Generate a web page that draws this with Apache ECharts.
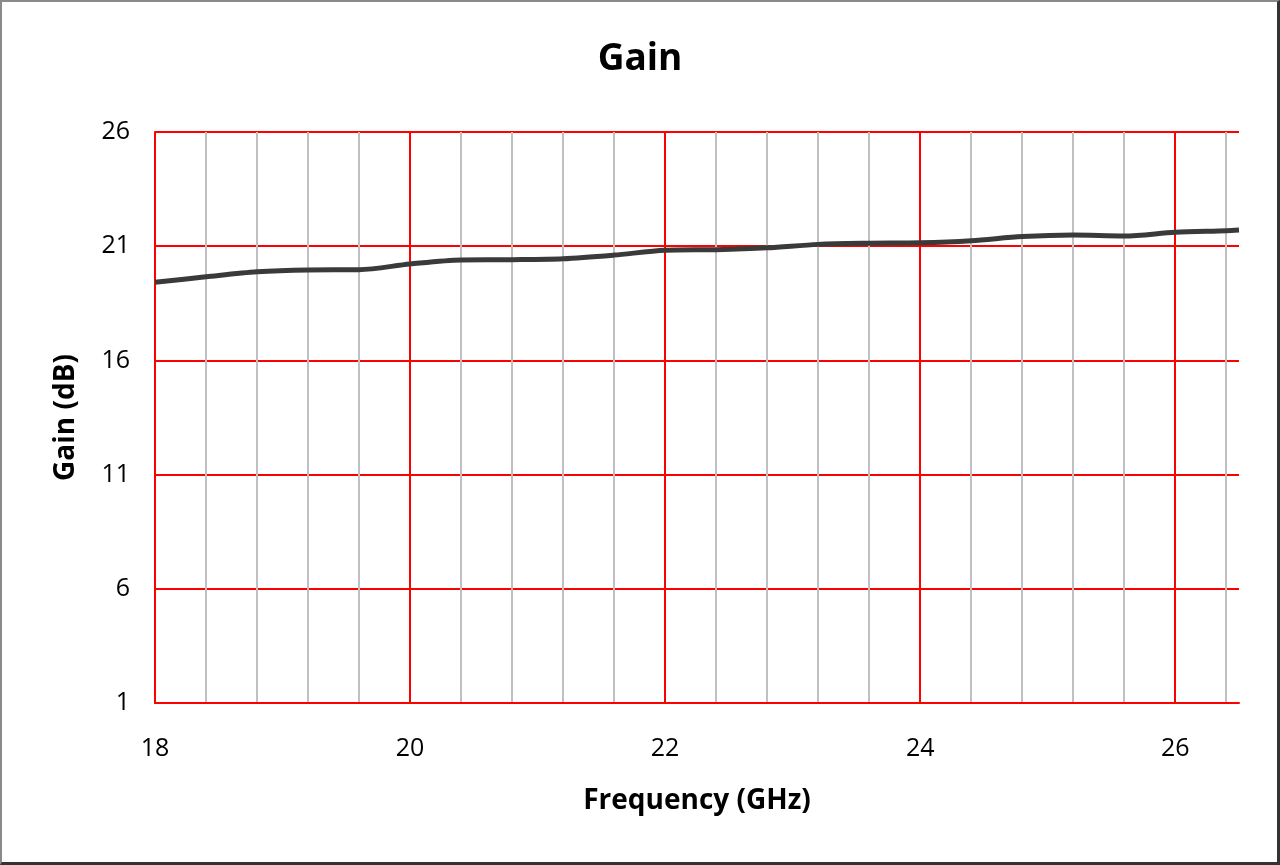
<!DOCTYPE html>
<html>
<head>
    <meta charset="utf-8">
    <title>Gain</title>
    <script src="https://cdn.jsdelivr.net/npm/echarts@6/dist/echarts.min.js"></script>
    <style>
        body { margin: 0; }
        #frame { position: absolute; left: 0; top: 0; width: 1280px; height: 865px; box-sizing: border-box;
                 border-top: 2px solid #8a8a8a; border-left: 2px solid #8a8a8a;
                 border-right: 3px solid #333; border-bottom: 3px solid #333; pointer-events: none; }
    </style>
</head>
<body>
    <div id="main" style="width: 1280px;height:865px;"></div>
    <div id="frame"></div>

<script>
// frequency points (GHz) and gain (dB)
var freq = [18.0, 18.4, 18.8, 19.2, 19.6, 20.0, 20.4, 20.8, 21.2, 21.6, 22.0, 22.4, 22.8, 23.2, 23.6, 24.0, 24.4, 24.8, 25.2, 25.6, 26.0, 26.4, 26.5];
var gain = [19.42, 19.66, 19.88, 19.96, 19.97, 20.22, 20.40, 20.41, 20.45, 20.61, 20.82, 20.85, 20.93, 21.08, 21.13, 21.15, 21.24, 21.42, 21.49, 21.45, 21.61, 21.68, 21.71];

var xTicks = { min: 18, max: 26.5, step: 2 };
var yTicks = { min: 1, max: 26, step: 5 };

var points = freq.map(function (f, i) { return [f, gain[i]]; });

var font = '"Open Sans", sans-serif';
var myChart = echarts.init(document.getElementById('main'));
myChart.setOption({
    backgroundColor: '#fff',
    animation: false,
    title: {
        text: 'Gain',
        left: 'center',
        top: 36,
        textStyle: { fontFamily: font, fontSize: 37, fontWeight: 'bold', color: '#000' }
    },
    grid: { left: 155, right: 41, top: 132, bottom: 162 },
    xAxis: {
        type: 'value',
        min: xTicks.min,
        max: xTicks.max,
        interval: xTicks.step,
        name: 'Frequency (GHz)',
        nameLocation: 'middle',
        nameGap: 84,
        nameTextStyle: { fontFamily: font, fontSize: 28, fontWeight: 'bold', color: '#000' },
        axisLine: { lineStyle: { color: '#ff0000', width: 2 } },
        axisTick: { show: false },
        axisLabel: { fontFamily: font, fontSize: 25, color: '#000', margin: 33, showMaxLabel: false },
        splitLine: { show: true, showMaxLine: false, lineStyle: { color: '#ff0000', width: 2 } },
        minorTick: { show: false, splitNumber: 5 },
        minorSplitLine: { show: true, lineStyle: { color: '#c0c0c0', width: 2 } }
    },
    yAxis: {
        type: 'value',
        min: yTicks.min,
        max: yTicks.max,
        interval: yTicks.step,
        name: 'Gain (dB)',
        nameLocation: 'middle',
        nameGap: 75,
        nameTextStyle: { fontFamily: font, fontSize: 28, fontWeight: 'bold', color: '#000' },
        axisLine: { show: true, lineStyle: { color: '#ff0000', width: 2 } },
        axisTick: { show: false },
        axisLabel: { fontFamily: font, fontSize: 25, color: '#000', margin: 25 },
        splitLine: { show: true, lineStyle: { color: '#ff0000', width: 2 } }
    },
    series: [
        {
            name: 'Gain',
            type: 'line',
            data: points,
            smooth: 0.3,
            showSymbol: false,
            lineStyle: { color: '#3a3a3a', width: 5 }
        }
    ]
});
</script>

</body>
</html>
